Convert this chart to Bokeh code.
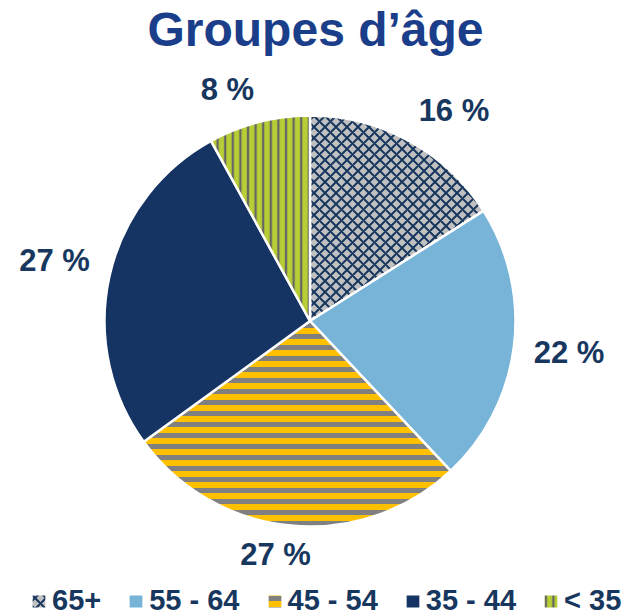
import math
import numpy as np
from bokeh.plotting import figure
from bokeh.models import ColumnDataSource, Range1d, Legend, LegendItem
from bokeh.core.properties import value
from bokeh.embed import file_html
from bokeh.resources import INLINE

# ---- data ----
categories = ["65+", "55 - 64", "45 - 54", "35 - 44", "< 35"]
shares = [16, 22, 27, 27, 8]
label_texts = ["16 %", "22 %", "27 %", "27 %", "8 %"]
title_text = ["Groupes d’âge"]

# ---- styles ----
fill_colors = ["#C0C0C0", "#77B4D8", "#FFC000", "#163463", "#B8CE34"]
hatch_patterns = ["diagonal_cross", " ", "horizontal_line", " ", "vertical_line"]
hatch_colors = ["#17365D", "#77B4D8", "#808080", "#163463", "#666666"]
hatch_scales = [11, 10, 11, 10, 7.6]
hatch_weights = [2.0, 1, 5, 1, 2.3]
TEXT_COLOR = "#17375E"
TITLE_COLOR = "#1B3E8A"
FONT = "Liberation Sans"

# ---- layout ----
W, H = 628, 616
CX, CY = 309.5, -320.5
R = 205.5
LABEL_GAP = 20
LABEL_SIZE = 31
CHAR_W = {" ": 0.278, "%": 0.889}

p = figure(width=W, height=H, output_backend="svg", toolbar_location=None,
           x_range=Range1d(0, W), y_range=Range1d(-H, 0),
           x_axis_location=None, y_axis_location=None, min_border=0,
           match_aspect=False)
p.grid.visible = False
p.outline_line_color = None
p.background_fill_color = "white"
p.border_fill_color = "white"

total = float(sum(shares))
cum = np.concatenate([[0.0], np.cumsum(shares)]) / total
start = math.pi / 2 - 2 * math.pi * cum[:-1]
end = math.pi / 2 - 2 * math.pi * cum[1:]
mid = (start + end) / 2

src = ColumnDataSource(dict(
    start=start, end=end, fill=fill_colors, hp=hatch_patterns, hc=hatch_colors,
    hs=hatch_scales, hw=hatch_weights, cat=categories))

r = p.wedge(x=CX, y=CY, radius=R, start_angle="start", end_angle="end",
            direction="clock", source=src, fill_color="fill",
            hatch_pattern="hp", hatch_color="hc", hatch_scale="hs",
            hatch_weight="hw", line_color="white", line_width=2.5)

# label placement (outside end)
def tw(s):
    return sum(CHAR_W.get(ch, 0.556) for ch in s) * LABEL_SIZE

lx, ly = [], []
for t, a in zip(label_texts, mid):
    c, s = math.cos(a), math.sin(a)
    px = CX + (R + LABEL_GAP) * c
    py = CY + (R + LABEL_GAP) * s
    fx = max(-1, min(1, 4 * c))
    fy = max(-1, min(1, 4 * s))
    lx.append(px + tw(t) / 2 * fx)
    ly.append(py + 11 * fy + 2)

p.text(x=lx, y=ly, text=label_texts, text_align="center", text_baseline="middle",
       text_font=value(FONT), text_font_style="bold",
       text_font_size=f"{LABEL_SIZE}px", text_color=TEXT_COLOR)

p.text(x=[315], y=[-28.5], text=title_text, text_align="center",
       text_baseline="middle", text_font=value(FONT),
       text_font_style="bold", text_font_size="48px", text_color=TITLE_COLOR)

items = [LegendItem(label=c, renderers=[r], index=i) for i, c in enumerate(categories)]
legend = Legend(items=items, orientation="horizontal", location=(29, -1),
                padding=0, margin=0, spacing=25, glyph_width=19, glyph_height=18,
                label_standoff=4, label_text_font=FONT, label_text_font_size="29px",
                label_text_font_style="bold", label_text_color=TEXT_COLOR,
                border_line_color=None, background_fill_alpha=0)
p.add_layout(legend)

open("out.html", "w").write(file_html(p, INLINE))
